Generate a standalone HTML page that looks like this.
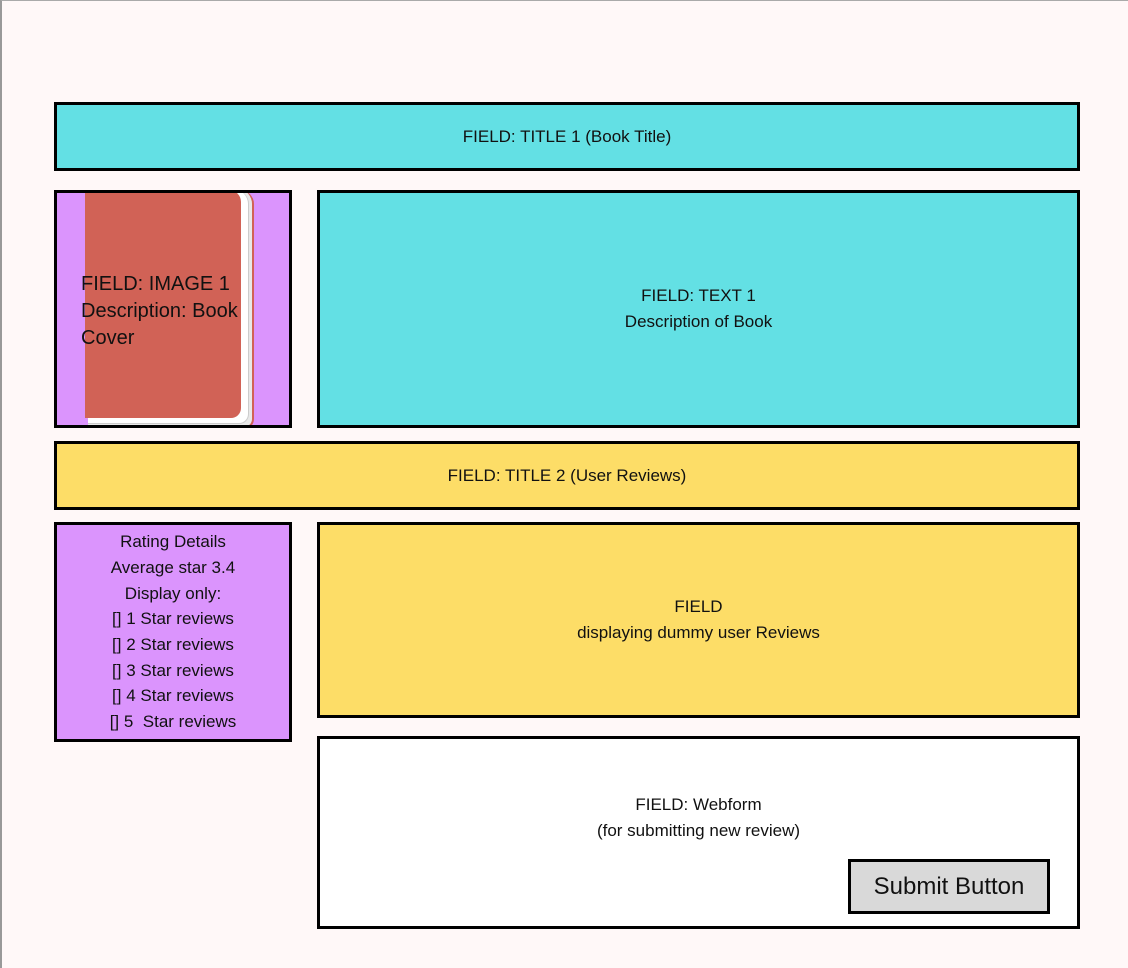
<!DOCTYPE html>
<html><head><meta charset="utf-8"><style>
body{margin:0;width:1128px;height:968px;background:#fff8f8;position:relative;overflow:hidden;font-family:"Liberation Sans",sans-serif;color:#111;}
.frame{position:absolute;left:0;top:0;width:1128px;height:968px;border-top:1px solid #aaa;border-left:2px solid #999;box-sizing:border-box;}
.b{position:absolute;border:3px solid #000;box-sizing:border-box;display:flex;align-items:center;justify-content:center;text-align:center;font-size:17px;line-height:26px;}
.cy{background:#63e0e4}.ye{background:#fddd67}.pu{background:#db94fd}
</style></head><body>
<div class="frame"></div>
<div class="b cy" style="left:54px;top:102px;width:1026px;height:69px">FIELD: TITLE 1 (Book Title)</div>
<div class="b pu" style="left:54px;top:190px;width:238px;height:238px;overflow:hidden">
 <div style="position:absolute;left:31px;top:-3px;width:164px;height:237px;background:#e8e8e8;border-radius:0 14px 10px 0;border-right:2px solid #d16256;border-bottom:2px solid #d16256"></div>
 <div style="position:absolute;left:31px;top:-3px;width:160px;height:233px;background:#fff;border-radius:0 14px 10px 0;border-right:1px solid #ccc;border-bottom:1px solid #ccc"></div>
 <div style="position:absolute;left:28px;top:-3px;width:156px;height:228px;background:#d16256;border-radius:0 12px 10px 0"></div>
 <div style="position:absolute;left:24px;top:78px;text-align:left;font-size:20px;line-height:27px">FIELD: IMAGE 1<br>Description: Book<br>Cover</div>
</div>
<div class="b cy" style="left:317px;top:190px;width:763px;height:238px">FIELD: TEXT 1<br>Description of Book</div>
<div class="b ye" style="left:54px;top:441px;width:1026px;height:69px">FIELD: TITLE 2 (User Reviews)</div>
<div class="b pu" style="left:54px;top:522px;width:238px;height:220px;line-height:25.7px">Rating Details<br>Average star 3.4<br>Display only:<br>[] 1 Star reviews<br>[] 2 Star reviews<br>[] 3 Star reviews<br>[] 4 Star reviews<br>[] 5&nbsp; Star reviews</div>
<div class="b ye" style="left:317px;top:522px;width:763px;height:196px">FIELD<br>displaying dummy user Reviews</div>
<div class="b" style="left:317px;top:736px;width:763px;height:193px;background:#fff;padding-bottom:30px">FIELD: Webform<br>(for submitting new review)</div>
<div class="b" style="left:848px;top:859px;width:202px;height:55px;background:#d9d9d9;font-size:24px">Submit Button</div>
</body></html>
